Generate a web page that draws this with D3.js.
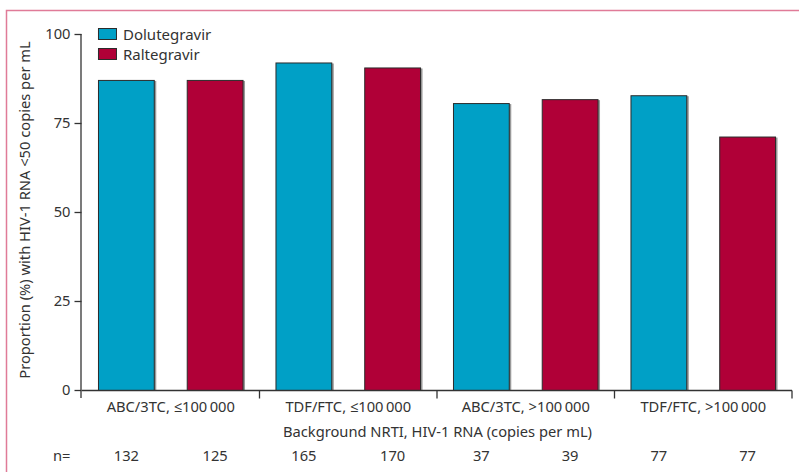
<!DOCTYPE html>
<html>
<head>
<meta charset="utf-8">
<script src="https://cdn.jsdelivr.net/npm/d3@7"></script>
<style>
  body { margin: 0; background: #fff; }
  text { font-family: "Noto Sans", "Open Sans", sans-serif; fill: #333; }
</style>
</head>
<body>
<div id="chart"></div>
<script>
// data
var groups = ["ABC/3TC, \u2264100\u2009000", "TDF/FTC, \u2264100\u2009000", "ABC/3TC, >100\u2009000", "TDF/FTC, >100\u2009000"];
var series = ["Dolutegravir", "Raltegravir"];
var dolutegravir = [87.1, 92.0, 80.6, 82.8];
var raltegravir = [87.1, 90.6, 81.7, 71.2];
var nDolutegravir = [132, 165, 37, 77];
var nRaltegravir = [125, 170, 39, 77];
var yTicks = [0, 25, 50, 75, 100];

var colors = { "Dolutegravir": "#00a0c6", "Raltegravir": "#b00037" };
var fs = "14.7px";

var svgWidth = 799;
var svgHeight = 472;
var margin = { top: 34, right: 6, bottom: 82, left: 82 };
var width = svgWidth - margin.left - margin.right;
var height = svgHeight - margin.top - margin.bottom;

var svg = d3.select("#chart")
    .append("svg")
    .attr("width", svgWidth)
    .attr("height", svgHeight);

// pink frame
svg.append("path")
    .attr("d", "M6.5,472 V10.5 H799")
    .attr("fill", "none")
    .attr("stroke", "#e07b98")
    .attr("stroke-width", 1.5);

var chartGroup = svg.append("g")
    .attr("transform", "translate(" + margin.left + "," + margin.top + ")");

// flatten to one list of bars
var bars = [];
groups.forEach(function (g, i) {
    bars.push({ key: g + "|D", group: g, series: "Dolutegravir", value: dolutegravir[i], n: nDolutegravir[i] });
    bars.push({ key: g + "|R", group: g, series: "Raltegravir", value: raltegravir[i], n: nRaltegravir[i] });
});

var xScale = d3.scaleBand()
    .domain(bars.map(d => d.key))
    .range([0, width - 1])
    .paddingInner(0.36)
    .paddingOuter(0.18);

var xGroup = d3.scaleBand()
    .domain(groups)
    .range([0, width - 1]);

var yScale = d3.scaleLinear().domain([0, 100]).range([height, 0]);

// bar shadows then bars
chartGroup.selectAll("rect.shadow")
    .data(bars)
    .enter()
    .append("rect")
    .attr("class", "shadow")
    .attr("x", d => xScale(d.key) + 1.5)
    .attr("y", d => yScale(d.value) + 1)
    .attr("width", xScale.bandwidth())
    .attr("height", d => height - yScale(d.value) - 1)
    .attr("fill", "#999");

chartGroup.selectAll("rect.bar")
    .data(bars)
    .enter()
    .append("rect")
    .attr("class", "bar")
    .attr("x", d => xScale(d.key) + 0.5)
    .attr("y", d => yScale(d.value) + 0.5)
    .attr("width", xScale.bandwidth() - 1)
    .attr("height", d => height - yScale(d.value))
    .attr("fill", d => colors[d.series])
    .attr("stroke", "#2b2b2b")
    .attr("stroke-width", 1);

// y axis
var leftAxis = d3.axisLeft(yScale).tickValues(yTicks).tickSize(7).tickPadding(4);
var yAxisG = chartGroup.append("g")
    .attr("transform", "translate(-0.5,0)")
    .call(leftAxis);
yAxisG.select(".domain").attr("d", "M-0.5,0V" + (height + 8)).attr("stroke", "#333").attr("stroke-width", 1.3);
yAxisG.selectAll(".tick line").attr("stroke", "#333").attr("stroke-width", 1.3);
yAxisG.selectAll(".tick text").style("font-size", fs).attr("fill", "#333").attr("font-family", "Noto Sans");

// x axis: line with ticks at group boundaries
var bottomAxis = d3.axisBottom(xGroup).tickSize(0).tickPadding(11);
var xAxisG = chartGroup.append("g")
    .attr("transform", "translate(0," + (height + 0.5) + ")")
    .call(bottomAxis);
xAxisG.select(".domain").attr("d", "M0,0H" + (width - 1)).attr("stroke", "#333").attr("stroke-width", 1.3);
xAxisG.selectAll(".tick text").style("font-size", fs).attr("fill", "#333").attr("font-family", "Noto Sans");

var bounds = groups.map(g => xGroup(g)).concat([xGroup(groups[groups.length - 1]) + xGroup.bandwidth()]).slice(1);
xAxisG.selectAll("line.sep")
    .data(bounds)
    .enter()
    .append("line")
    .attr("class", "sep")
    .attr("x1", d => d).attr("x2", d => d)
    .attr("y1", 0).attr("y2", 8)
    .attr("stroke", "#333")
    .attr("stroke-width", 1.3);

// axis titles
chartGroup.append("text")
    .attr("x", width / 2)
    .attr("y", height + 47)
    .attr("text-anchor", "middle")
    .style("font-size", fs)
    .text("Background NRTI, HIV-1 RNA (copies per mL)");

chartGroup.append("text")
    .attr("transform", "rotate(-90)")
    .attr("x", -height / 2 + 2)
    .attr("y", -52)
    .attr("text-anchor", "middle")
    .style("font-size", fs)
    .text("Proportion (%) with HIV-1 RNA <50 copies per mL");

// n row
chartGroup.append("text")
    .attr("x", -29)
    .attr("y", height + 71)
    .style("font-size", fs)
    .text("n=");

chartGroup.selectAll("text.n")
    .data(bars)
    .enter()
    .append("text")
    .attr("class", "n")
    .attr("x", d => xScale(d.key) + xScale.bandwidth() / 2)
    .attr("y", height + 71)
    .attr("text-anchor", "middle")
    .style("font-size", fs)
    .text(d => d.n);

// legend
var legend = chartGroup.selectAll("g.legend")
    .data(series)
    .enter()
    .append("g")
    .attr("class", "legend")
    .attr("transform", (d, i) => "translate(" + (xScale(bars[0].key)) + "," + (-5.5 + i * 20) + ")");

legend.append("rect")
    .attr("x", 0.5)
    .attr("y", 0)
    .attr("width", 18)
    .attr("height", 11)
    .attr("fill", d => colors[d])
    .attr("stroke", "#2b2b2b")
    .attr("stroke-width", 1);

legend.append("text")
    .attr("x", 25)
    .attr("y", 11)
    .style("font-size", "15px")
    .text(d => d);
</script>
</body>
</html>
